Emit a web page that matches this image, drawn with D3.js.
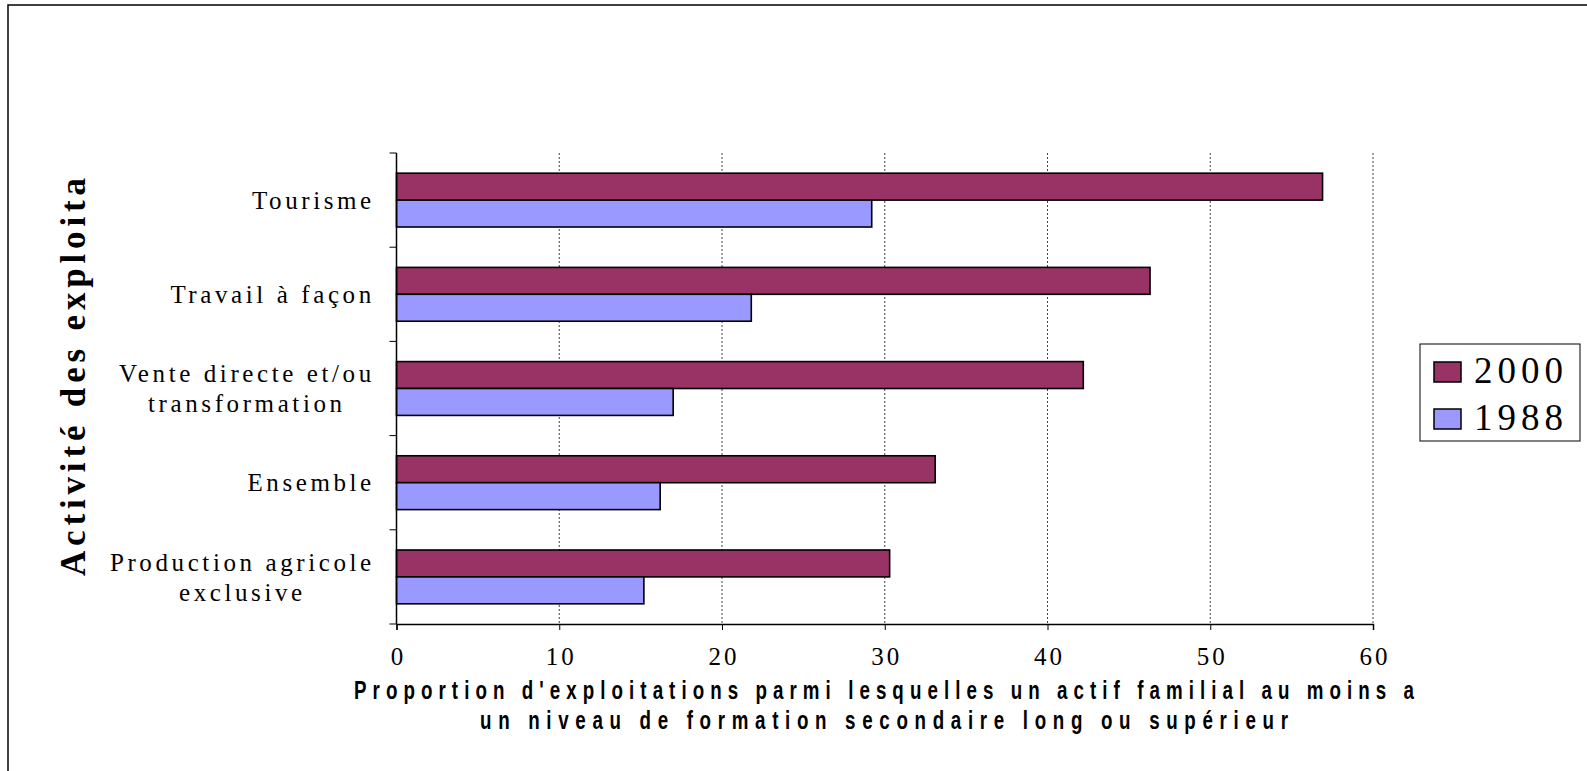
<!DOCTYPE html>
<html>
<head>
<meta charset="utf-8">
<script src="https://cdn.jsdelivr.net/npm/d3@7/dist/d3.min.js"></script>
<style>
  html, body { margin: 0; padding: 0; background: #fff; }
  svg { display: block; }
</style>
</head>
<body>
<svg id="chart" width="1587" height="771"></svg>
<script>
// ---- data ----
const categories = ["Tourisme", "Travail à façon", "Vente directe et/ou transformation", "Ensemble", "Production agricole exclusive"];
const categoryLines = [["Tourisme"], ["Travail à façon"], ["Vente directe et/ou", "transformation"], ["Ensemble"], ["Production agricole", "exclusive"]];
const seriesNames = ["2000", "1988"];
const values2000 = [56.9, 46.3, 42.2, 33.1, 30.3];
const values1988 = [29.2, 21.8, 17.0, 16.2, 15.2];
const xTicks = [0, 10, 20, 30, 40, 50, 60];
const xTitleLines = ["Proportion d'exploitations parmi lesquelles un actif familial au moins a", "un niveau de formation secondaire long ou supérieur"];
const yTitle = "Activité des exploita";

const colors = { "2000": "#993366", "1988": "#9999FF" };
const seriesValues = { "2000": values2000, "1988": values1988 };

const svg = d3.select("#chart");
const serif = "'Liberation Serif', 'Times New Roman', serif";

// outer frame (only top and left visible)
svg.append("rect").attr("x", 8).attr("y", 5).attr("width", 1700).attr("height", 900)
  .attr("fill", "none").attr("stroke", "#000").attr("stroke-width", 1.5);

const plot = { left: 396.5, right: 1373, top: 153, bottom: 624 };

const x = d3.scaleLinear().domain([0, 60]).range([plot.left, plot.right]);
const y = d3.scaleBand().domain(categories).range([plot.top, plot.bottom]).paddingInner(0).paddingOuter(0);
const ySub = d3.scaleBand().domain(seriesNames).range([0, y.bandwidth()]).paddingInner(0).paddingOuter(0.75);

// gridlines
svg.append("g").selectAll("line").data(xTicks.filter(d => d > 0)).join("line")
  .attr("x1", d => x(d)).attr("x2", d => x(d))
  .attr("y1", plot.top).attr("y2", plot.bottom)
  .attr("stroke", "#444").attr("stroke-width", 1).attr("stroke-dasharray", "2,2");

// bars
const rows = categories.map((c, i) => ({ c, i }));
seriesNames.forEach(s => {
  svg.append("g").selectAll("rect").data(rows).join("rect")
    .attr("x", x(0))
    .attr("y", d => y(d.c) + ySub(s))
    .attr("width", d => x(seriesValues[s][d.i]) - x(0))
    .attr("height", ySub.bandwidth())
    .attr("fill", colors[s])
    .attr("stroke", "#000").attr("stroke-width", 1.6);
});

// left axis
const yBounds = categories.map(c => y(c)).concat([plot.bottom]);
svg.append("line").attr("x1", plot.left).attr("x2", plot.left).attr("y1", plot.top).attr("y2", plot.bottom)
  .attr("stroke", "#000").attr("stroke-width", 1.5);
svg.append("g").selectAll("line").data(yBounds).join("line")
  .attr("x1", plot.left - 7).attr("x2", plot.left).attr("y1", d => d).attr("y2", d => d)
  .attr("stroke", "#000").attr("stroke-width", 1);

// bottom axis
const xAxis = d3.axisBottom(x).tickValues(xTicks).tickSize(6).tickPadding(17).tickFormat(d3.format("d"));
const gx = svg.append("g").attr("transform", `translate(0,${plot.bottom})`).call(xAxis);
gx.select(".domain").attr("stroke", "#000").attr("stroke-width", 1.5);
gx.selectAll(".tick line").attr("stroke", "#000").attr("stroke-width", 1);
gx.selectAll(".tick text").attr("font-family", serif).attr("font-size", 25).attr("fill", "#000")
  .attr("letter-spacing", 3).attr("dx", 1.5);

// category labels (block right-aligned, lines centred within block)
const lab = svg.append("g");
const labelRight = 373;
rows.forEach(d => {
  const lines = categoryLines[d.i];
  const cy = y(d.c) + y.bandwidth() / 2;
  const lh = 30;
  const texts = lines.map((t, k) => lab.append("text")
    .attr("y", cy + (k - (lines.length - 1) / 2) * lh)
    .attr("dy", "0.35em")
    .attr("text-anchor", "middle")
    .attr("font-family", serif).attr("font-size", 25)
    .attr("letter-spacing", 3.6)
    .attr("fill", "#000")
    .text(t));
  const widths = texts.map(t => t.node().getComputedTextLength());
  const maxW = d3.max(widths);
  texts.forEach(t => t.attr("x", labelRight - maxW / 2 + 1.8));
});

// y title
svg.append("text")
  .attr("transform", `translate(85,377) rotate(-90)`)
  .attr("text-anchor", "middle")
  .attr("font-family", serif).attr("font-weight", "bold").attr("font-size", 35)
  .attr("textLength", 398).attr("lengthAdjust", "spacing")
  .attr("fill", "#000")
  .text(yTitle);

// x title (condensed bold, letter-spaced)
const xtW = [1060, 808];
const xtY = [699, 729];
const squeeze = 0.75;
xTitleLines.forEach((t, k) => {
  svg.append("text")
    .attr("transform", `translate(884,${xtY[k]}) scale(${squeeze},1)`)
    .attr("x", 0).attr("y", 0)
    .attr("text-anchor", "middle")
    .attr("font-family", "'Liberation Sans Narrow', 'Liberation Sans', Arial, sans-serif")
    .attr("font-weight", "bold").attr("font-size", 25)
    .attr("textLength", xtW[k] / squeeze).attr("lengthAdjust", "spacing")
    .attr("fill", "#000")
    .text(t);
});

// legend
const leg = svg.append("g");
leg.append("rect").attr("x", 1420).attr("y", 344).attr("width", 160).attr("height", 97)
  .attr("fill", "#fff").attr("stroke", "#000").attr("stroke-width", 1);
seriesNames.forEach((s, k) => {
  const base = 383 + k * 47;
  leg.append("rect").attr("x", 1434).attr("y", base - 21).attr("width", 27).attr("height", 20)
    .attr("fill", colors[s]).attr("stroke", "#000").attr("stroke-width", 1.5);
  leg.append("text").attr("x", 1474).attr("y", base)
    .attr("font-family", serif).attr("font-size", 37).attr("letter-spacing", 5)
    .attr("fill", "#000").text(s);
});
</script>
</body>
</html>
